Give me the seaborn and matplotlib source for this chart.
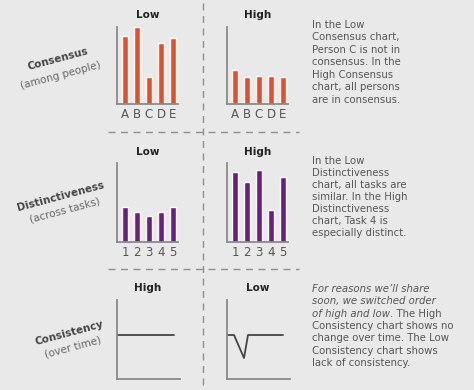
import matplotlib
matplotlib.use("Agg")
import matplotlib.pyplot as plt
import seaborn as sns
import pandas as pd

# data (heights in arbitrary units, axis top = 77..79)
people = ["A", "B", "C", "D", "E"]
consensus_low = [68, 77, 27, 61, 66]
consensus_high = [34, 27, 28, 28, 27]

tasks = ["1", "2", "3", "4", "5"]
distinct_low = [35, 30, 26, 30, 35]
distinct_high = [70, 60, 72, 32, 65]

time_high = [0, 57]
consist_high = [44, 44]
time_low = [0, 7, 17, 21, 56]
consist_low = [44, 44, 21, 44, 44]

text_consensus = ["In the Low", "Consensus chart,", "Person C is not in",
                  "consensus. In the", "High Consensus", "chart, all persons",
                  "are in consensus."]
text_distinct = ["In the Low", "Distinctiveness", "chart, all tasks are",
                 "similar. In the High", "Distinctiveness", "chart, Task 4 is",
                 "especially distinct."]

sns.set_style("white")
plt.rcParams["font.family"] = ["DejaVu Sans"]

BG = "#e9e9ea"
ORANGE = "#e0502f"
PURPLE = "#6b1f7d"
AXC = "#8a8a8a"
TXT = "#555555"
FS = 7.3

W, H = 474, 390
fig = plt.figure(figsize=(W / 100, H / 100), dpi=100)
fig.patch.set_facecolor(BG)


def px_axes(x0, y0, x1, y1):
    # pixel box (top-left origin) -> figure axes
    ax = fig.add_axes([x0 / W, 1 - y1 / H, (x1 - x0) / W, (y1 - y0) / H])
    ax.set_facecolor("none")
    for s in ["top", "right"]:
        ax.spines[s].set_visible(False)
    for s in ["left", "bottom"]:
        ax.spines[s].set_color(AXC)
        ax.spines[s].set_linewidth(1.3)
    return ax


def bars(box, labels, vals, color, ymax):
    ax = px_axes(*box)
    df = pd.DataFrame({"k": labels, "v": vals})
    sns.barplot(data=df, x="k", y="v", color=color, width=0.55,
                saturation=1, ax=ax)
    ax.set_xlim(-0.67, 4.42)
    ax.set_ylim(0, ymax)
    ax.set_xlabel("")
    ax.set_ylabel("")
    ax.set_yticks([])
    ax.tick_params(axis="x", length=0, pad=3, labelsize=8.5, colors=TXT)
    return ax


def line(box, t, vals):
    ax = px_axes(*box)
    sns.lineplot(x=t, y=vals, color="#444444", linewidth=1.3, ax=ax)
    ax.set_xlim(0, 63)
    ax.set_ylim(0, 79)
    ax.set_xticks([])
    ax.set_yticks([])
    return ax


bars((117, 27, 178, 104), people, consensus_low, ORANGE, 77)
bars((227, 27, 288, 104), people, consensus_high, ORANGE, 77)
bars((117, 163, 178, 242), tasks, distinct_low, PURPLE, 79)
bars((227, 163, 288, 242), tasks, distinct_high, PURPLE, 79)
line((117, 300, 180, 379), time_high, consist_high)
line((227, 300, 290, 379), time_low, consist_low)

# panel titles
for x, y, s in [(148, 15.5, "Low"), (258, 15.5, "High"),
                (148, 152, "Low"), (258, 152, "High"),
                (148, 288, "High"), (258, 288, "Low")]:
    fig.text(x / W, 1 - y / H, s, ha="center", va="center",
             fontsize=7.5, fontweight="bold", color="#222222")

# row labels
for x, y, s, w, c in [(58, 59, "Consensus", "semibold", "#444444"),
                      (61, 75, "(among people)", "normal", "#666666"),
                      (61, 196, "Distinctiveness", "semibold", "#444444"),
                      (65, 210, "(across tasks)", "normal", "#666666"),
                      (69, 333, "Consistency", "semibold", "#444444"),
                      (73, 347, "(over time)", "normal", "#666666")]:
    fig.text(x / W, 1 - y / H, s, ha="center", va="center", rotation=15,
             fontsize=7.5, fontweight=w, color=c)

# dashed dividers
dash = dict(color="#8f8f8f", linewidth=1.0, linestyle=(0, (5, 4)))
fig.add_artist(plt.Line2D([203 / W, 203 / W], [1 - 3 / H, 0], **dash))
for y in [132, 269]:
    fig.add_artist(plt.Line2D([108 / W, 299 / W], [1 - y / H, 1 - y / H], **dash))

# explanation texts
TX = 312
for i, s in enumerate(text_consensus):
    fig.text(TX / W, 1 - (27.5 + 12.6 * i) / H, s, va="baseline",
             fontsize=FS, color=TXT)
for i, s in enumerate(text_distinct):
    fig.text(TX / W, 1 - (164 + 12.0 * i) / H, s, va="baseline",
             fontsize=FS, color=TXT)

base = [292 + 12.3 * i for i in range(7)]
fig.text(TX / W, 1 - base[0] / H, "For reasons we\u2019ll share", va="baseline",
         fontsize=FS, color=TXT, style="italic")
fig.text(TX / W, 1 - base[1] / H, "soon, we switched order", va="baseline",
         fontsize=FS, color=TXT, style="italic")
it = fig.text(TX / W, 1 - base[2] / H, "of high and low", va="baseline",
              fontsize=FS, color=TXT, style="italic")
fig.add_artist(plt.Annotation(". The High", xy=(1, H - base[2]),
                              xycoords=(it, "figure pixels"), va="baseline",
                              fontsize=FS, color=TXT))
for i, s in enumerate(["Consistency chart shows no", "change over time. The Low",
                       "Consistency chart shows", "lack of consistency."]):
    fig.text(TX / W, 1 - base[3 + i] / H, s, va="baseline",
             fontsize=FS, color=TXT)

fig.savefig("out.png", dpi=100, facecolor=BG)
